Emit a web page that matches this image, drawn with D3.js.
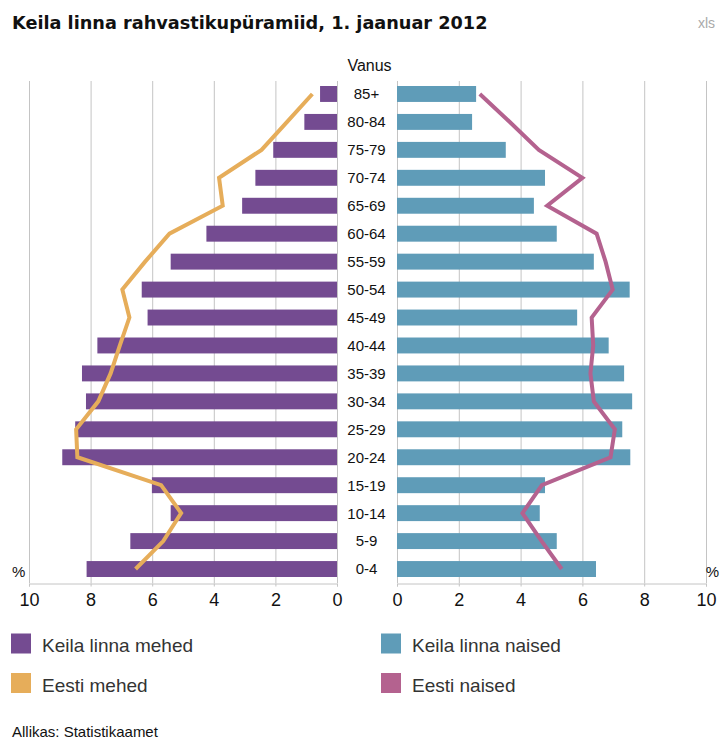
<!DOCTYPE html>
<html>
<head>
<meta charset="utf-8">
<script src="https://cdn.jsdelivr.net/npm/d3@7"></script>
<style>
  body { margin: 0; background: #fff; font-family: "Liberation Sans", Arial, sans-serif; }
</style>
</head>
<body>
<div id="chart"></div>
<script>
const ageGroups = ["85+", "80-84", "75-79", "70-74", "65-69", "60-64", "55-59", "50-54", "45-49",
    "40-44", "35-39", "30-34", "25-29", "20-24", "15-19", "10-14", "5-9", "0-4"];
const keilaMen =    [0.55, 1.06, 2.07, 2.65, 3.08, 4.24, 5.40, 6.34, 6.15, 7.78, 8.28, 8.15, 8.50, 8.92, 6.01, 5.40, 6.71, 8.13];
const estoniaMen =  [0.80, 1.62, 2.45, 3.83, 3.71, 5.44, 6.23, 6.97, 6.74, 7.05, 7.35, 7.75, 8.47, 8.43, 5.71, 5.06, 5.64, 6.54];
const keilaWomen =  [2.56, 2.43, 3.52, 4.79, 4.43, 5.17, 6.37, 7.53, 5.83, 6.85, 7.35, 7.61, 7.29, 7.55, 4.79, 4.62, 5.17, 6.44];
const estoniaWomen = [2.68, 3.65, 4.59, 6.00, 4.86, 6.46, 6.75, 6.98, 6.30, 6.35, 6.26, 6.37, 7.05, 6.91, 4.69, 4.06, 4.68, 5.33];
const tickValues = [0, 2, 4, 6, 8, 10];

const colors = {
    keilaMen: "#744b91",
    keilaWomen: "#5f9cb8",
    estoniaMen: "#e6ad5a",
    estoniaWomen: "#b4628f"
};

const width = 720, height = 740;
const plotTop = 80, plotBottom = 583;

const svg = d3.select("#chart").append("svg")
    .attr("width", width)
    .attr("height", height);

svg.append("text")
    .attr("x", 12).attr("y", 29)
    .style("font-family", "'DejaVu Sans', sans-serif")
    .style("font-size", "17.7px").style("font-weight", "bold").attr("fill", "#111")
    .text("Keila linna rahvastikupüramiid, 1. jaanuar 2012");

svg.append("text")
    .attr("x", 715).attr("y", 28).attr("text-anchor", "end")
    .style("font-size", "14px").attr("fill", "#aaa")
    .text("xls");

const y = d3.scaleBand()
    .domain(ageGroups)
    .range([plotTop, plotBottom])
    .paddingInner(0.43)
    .paddingOuter(0.215);

const xLeft = d3.scaleLinear().domain([0, 10]).range([337, 29]);
const xRight = d3.scaleLinear().domain([0, 10]).range([397, 706]);

// grid lines
const drawGrid = function(scale){
    svg.append("g").selectAll("line")
        .data(tickValues)
        .enter().append("line")
        .attr("x1", d => scale(d) + 0.5).attr("x2", d => scale(d) + 0.5)
        .attr("y1", plotTop + 1).attr("y2", plotBottom)
        .attr("stroke", "#c4c4c4").attr("stroke-width", 1);
};
drawGrid(xLeft);
drawGrid(xRight);

// axes
const drawAxis = function(scale){
    const g = svg.append("g")
        .attr("transform", `translate(0, ${plotBottom + 0.5})`)
        .call(d3.axisBottom(scale).tickValues(tickValues).tickSize(3).tickPadding(7));
    g.select(".domain").attr("stroke", "#c4c4c4");
    g.selectAll(".tick line").attr("stroke", "#c4c4c4");
    g.selectAll("text")
        .style("font-size", "18px")
        .style("font-family", "'Liberation Sans', Arial, sans-serif")
        .attr("fill", "#111");
};
drawAxis(xLeft);
drawAxis(xRight);

// bars
svg.append("g").selectAll("rect")
    .data(ageGroups)
    .enter().append("rect")
    .attr("x", (d, i) => xLeft(keilaMen[i]))
    .attr("y", d => y(d))
    .attr("width", (d, i) => xLeft(0) - xLeft(keilaMen[i]))
    .attr("height", y.bandwidth())
    .attr("fill", colors.keilaMen);

svg.append("g").selectAll("rect")
    .data(ageGroups)
    .enter().append("rect")
    .attr("x", xRight(0))
    .attr("y", d => y(d))
    .attr("width", (d, i) => xRight(keilaWomen[i]) - xRight(0))
    .attr("height", y.bandwidth())
    .attr("fill", colors.keilaWomen);

// lines
const menLine = d3.line()
    .x((d, i) => xLeft(d))
    .y((d, i) => y(ageGroups[i]) + y.bandwidth() / 2);
const womenLine = d3.line()
    .x((d, i) => xRight(d))
    .y((d, i) => y(ageGroups[i]) + y.bandwidth() / 2);

svg.append("path")
    .datum(estoniaMen)
    .attr("d", menLine)
    .attr("fill", "none")
    .attr("stroke", colors.estoniaMen)
    .attr("stroke-width", 4)
    .attr("stroke-linejoin", "miter");

svg.append("path")
    .datum(estoniaWomen)
    .attr("d", womenLine)
    .attr("fill", "none")
    .attr("stroke", colors.estoniaWomen)
    .attr("stroke-width", 4)
    .attr("stroke-linejoin", "miter");

// age labels
svg.append("g").selectAll("text")
    .data(ageGroups)
    .enter().append("text")
    .attr("x", 366.5)
    .attr("y", d => y(d) + y.bandwidth() / 2)
    .attr("dy", "0.36em")
    .attr("text-anchor", "middle")
    .style("font-size", "15px")
    .attr("fill", "#111")
    .text(d => d);

svg.append("text")
    .attr("x", 369.5).attr("y", 71).attr("text-anchor", "middle")
    .style("font-size", "16px").attr("fill", "#111")
    .text("Vanus");

svg.append("text")
    .attr("x", 12).attr("y", 577)
    .style("font-size", "15px").attr("fill", "#111")
    .text("%");
svg.append("text")
    .attr("x", 719).attr("y", 577).attr("text-anchor", "end")
    .style("font-size", "15px").attr("fill", "#111")
    .text("%");

// legend
const legendItems = [
    { label: "Keila linna mehed", color: colors.keilaMen, x: 11, y: 633.5 },
    { label: "Keila linna naised", color: colors.keilaWomen, x: 381, y: 633.5 },
    { label: "Eesti mehed", color: colors.estoniaMen, x: 11, y: 673 },
    { label: "Eesti naised", color: colors.estoniaWomen, x: 381, y: 673 }
];
const legend = svg.append("g").selectAll("g")
    .data(legendItems)
    .enter().append("g")
    .attr("transform", d => `translate(${d.x}, ${d.y})`);
legend.append("rect")
    .attr("width", 20).attr("height", 20)
    .attr("fill", d => d.color);
legend.append("text")
    .attr("x", 31).attr("y", 18.5)
    .style("font-size", "19px").attr("fill", "#333")
    .text(d => d.label);

svg.append("text")
    .attr("x", 12).attr("y", 737)
    .style("font-size", "15px").attr("fill", "#111")
    .text("Allikas: Statistikaamet");
</script>
</body>
</html>
